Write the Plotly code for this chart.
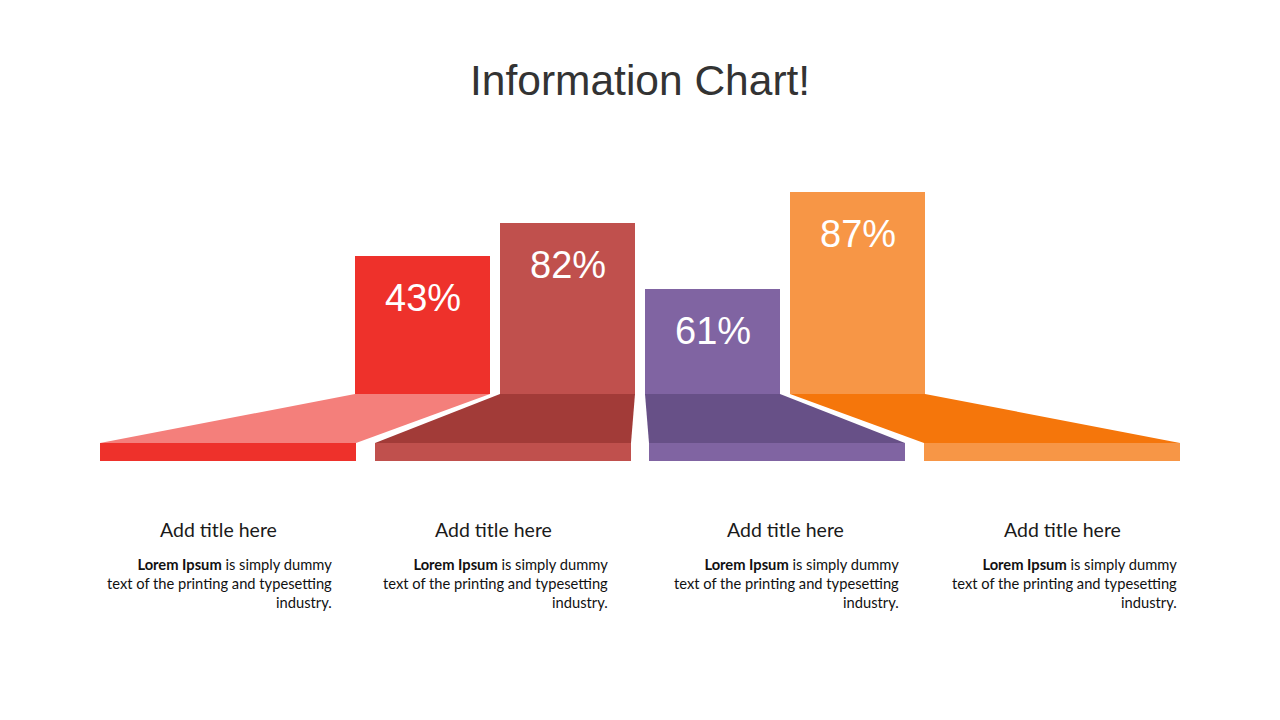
"""
Information chart: four bars on a trapezoid floor with captions below.
"""

import plotly.graph_objects as go

# ---- data ----
categories = ["Step 1", "Step 2", "Step 3", "Step 4"]
percent = [43, 82, 61, 87]
bar_height = [138, 171, 105, 202]  # drawn height of each bar (px units)
titles = ["Add title here", "Add title here", "Add title here", "Add title here"]
body_bold = ["Lorem Ipsum", "Lorem Ipsum", "Lorem Ipsum", "Lorem Ipsum"]
body_rest = [
    " is simply dummy<br>text of the printing and typesetting<br>industry.",
    " is simply dummy<br>text of the printing and typesetting<br>industry.",
    " is simply dummy<br>text of the printing and typesetting<br>industry.",
    " is simply dummy<br>text of the printing and typesetting<br>industry.",
]

bar_colors = ["#EE312B", "#C0504D", "#8064A2", "#F79646"]
floor_colors = ["#F47F7B", "#A23B38", "#675087", "#F5760B"]
strip_colors = ["#EE312B", "#C0504D", "#8064A2", "#F79646"]

W, H = 1280, 720
OFF = 8               # page body margin, so page px == data units
BASE_Y = 394          # pixel row where the bars stand
BAR_GAP = 10
BAR_X0, BAR_X1 = 355 - BAR_GAP / 2, 925 + BAR_GAP / 2
FLOOR_Y = 443         # top of the bottom strips
STRIP_H = 18
strip_left = [100, 375, 649, 924]
STRIP_W = 256
bar_edges = [(355, 490), (500, 635), (645, 780), (790, 925)]

fig = go.Figure()

# bars on their own axis pair, heights in pixel units
fig.add_trace(
    go.Bar(
        x=categories,
        y=bar_height,
        marker=dict(color=bar_colors, line=dict(width=0)),
        xaxis="x2",
        yaxis="y2",
        hoverinfo="skip",
    )
)

# percent labels inside the bars
for cat, h, p in zip(categories, bar_height, percent):
    fig.add_annotation(
        x=cat, y=h, xref="x2", yref="y2",
        text=f"{p}%", showarrow=False,
        yanchor="middle", yshift=-42,
        font=dict(family="Liberation Sans, Arial", size=38, color="white"),
    )

# floor trapezoids + strips, joining each bar to its strip
shapes = []
for i, (bx0, bx1) in enumerate(bar_edges):
    sx0 = strip_left[i]
    sx1 = sx0 + STRIP_W
    shapes.append(dict(
        type="path", xref="x", yref="y", layer="below",
        path=f"M {bx0},{BASE_Y} L {bx1},{BASE_Y} L {sx1},{FLOOR_Y} L {sx0},{FLOOR_Y} Z",
        fillcolor=floor_colors[i], line=dict(width=0),
    ))
    shapes.append(dict(
        type="rect", xref="x", yref="y", layer="below",
        x0=sx0, x1=sx1, y0=FLOOR_Y, y1=FLOOR_Y + STRIP_H,
        fillcolor=strip_colors[i], line=dict(width=0),
    ))

# captions
title_x = [218, 493, 785, 1062]
body_right = [334, 610, 901, 1179]
for i in range(len(categories)):
    fig.add_annotation(
        x=title_x[i], y=529, xref="x", yref="y",
        text=titles[i], showarrow=False,
        xanchor="center", yanchor="middle",
        font=dict(family="Lato, Open Sans", size=19.5, color="#1a1a1a"),
    )
    fig.add_annotation(
        x=body_right[i], y=553, xref="x", yref="y",
        text=f"<b>{body_bold[i]}</b>{body_rest[i]}", showarrow=False,
        xanchor="right", yanchor="top", align="right",
        font=dict(family="Lato, Open Sans", size=14.7, color="#111111"),
    )

fig.add_annotation(
    x=640, y=80, xref="x", yref="y",
    text="Information Chart!", showarrow=False,
    xanchor="center", yanchor="middle",
    font=dict(family="Liberation Sans, Arial", size=42.5, color="#333333"),
)

slot = (BAR_X1 - BAR_X0) / len(categories)
fig.update_layout(
    width=W, height=H,
    margin=dict(l=0, r=0, t=0, b=0),
    paper_bgcolor="white",
    plot_bgcolor="rgba(0,0,0,0)",
    showlegend=False,
    shapes=shapes,
    bargap=BAR_GAP / slot,
    xaxis=dict(range=[OFF, W + OFF], visible=False, fixedrange=True),
    yaxis=dict(range=[H + OFF, OFF], visible=False, fixedrange=True),
    xaxis2=dict(
        domain=[(BAR_X0 - OFF) / W, (BAR_X1 - OFF) / W], anchor="y2",
        visible=False, fixedrange=True,
    ),
    yaxis2=dict(
        domain=[(H - (BASE_Y - OFF)) / H, 1], range=[0, BASE_Y - OFF],
        anchor="x2", visible=False, fixedrange=True,
    ),
)

fig.write_html("out.html")
